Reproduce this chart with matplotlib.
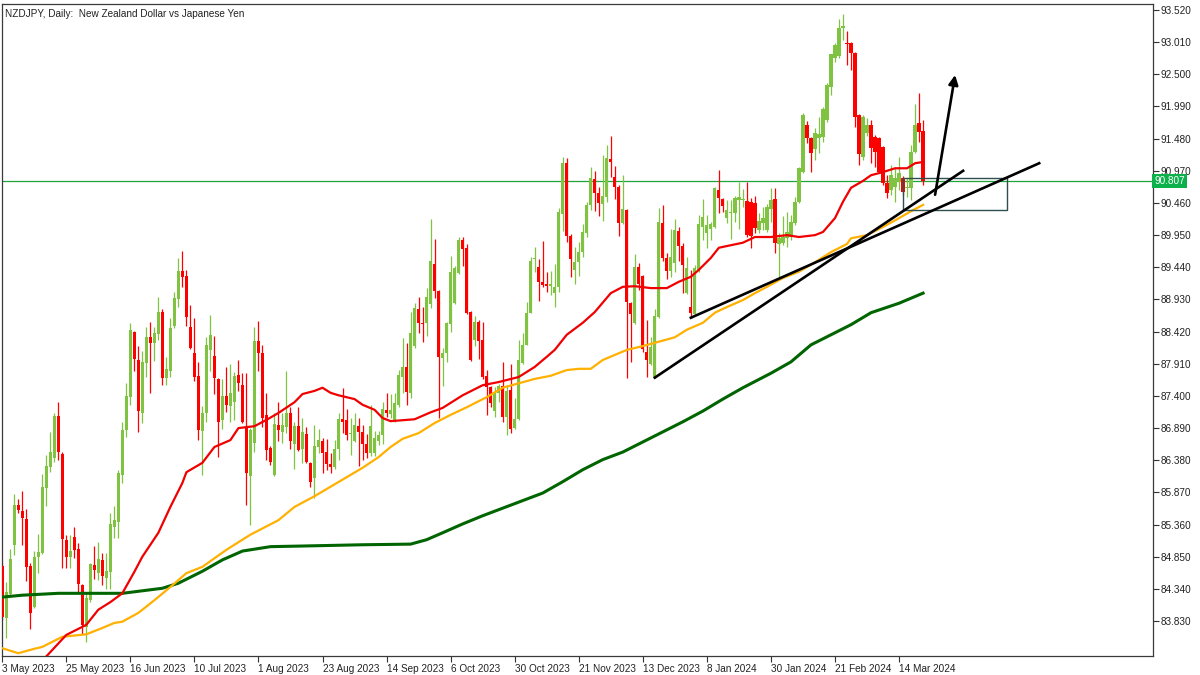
import matplotlib
matplotlib.use("Agg")
import matplotlib.pyplot as plt
from matplotlib.patches import Rectangle
from matplotlib.transforms import blended_transform_factory

plt.rcParams["font.family"] = ["Liberation Sans", "DejaVu Sans"]

# --- Daily OHLC, NZDJPY, bar 0 = 3 May 2023 (weekdays) ---
opens = [
    84.70, 83.88, 84.26, 85.04, 85.67, 85.58, 85.45, 84.70, 84.05, 84.85,
    84.91, 85.94, 86.27, 86.42, 87.08, 86.48, 85.12, 84.85, 85.16, 84.97,
    84.40, 83.74, 84.16, 84.72, 84.60, 84.80, 84.51, 84.61, 85.32, 85.40,
    86.15, 86.86, 87.38, 88.41, 87.97, 87.13, 87.92, 88.33, 88.24, 88.38,
    88.73, 87.68, 87.79, 88.51, 88.94, 89.38, 89.30, 88.49, 88.08, 87.72,
    86.84, 87.13, 88.13, 88.03, 87.67, 87.02, 87.40, 87.24, 87.31, 87.73,
    87.57, 86.89, 86.13, 86.65, 88.27, 88.08, 87.10, 86.57, 86.15, 86.94,
    86.83, 86.91, 87.13, 86.64, 86.92, 86.56, 86.80, 86.34, 86.10, 86.59,
    86.69, 86.51, 86.32, 86.27, 86.56, 87.03, 87.02, 86.79, 86.69, 86.92,
    86.83, 86.64, 86.50, 86.50, 86.69, 86.78, 87.18, 87.12, 87.00, 87.26,
    87.70, 87.86, 87.45, 88.19, 88.78, 88.56, 88.56, 88.86, 89.49, 89.06,
    88.00, 88.08, 88.54, 88.87, 89.35, 89.87, 89.75, 88.73, 88.29, 88.57,
    88.29, 87.72, 87.54, 87.16, 87.45, 87.56, 87.07, 87.49, 86.89, 87.03,
    87.92, 88.21, 88.72, 89.57, 89.45, 89.21, 89.18, 89.15, 89.03, 89.13,
    90.28, 91.09, 89.94, 89.40, 89.52, 89.68, 89.98, 90.43, 90.84, 90.62,
    90.44, 90.56, 91.16, 90.87, 90.71, 90.14, 90.35, 88.87, 88.56, 89.45,
    89.30, 88.10, 87.91, 87.70, 88.65, 90.14, 89.59, 89.38, 89.51, 90.02,
    89.78, 89.03, 88.81, 88.70, 89.40, 90.08, 89.98, 90.05, 90.08, 90.67,
    90.52, 90.22, 90.30, 90.30, 90.51, 90.50, 90.49, 90.48, 90.46, 90.03,
    90.14, 90.03, 90.37, 90.52, 89.81, 89.83, 89.90, 89.92, 90.14, 90.48,
    90.95, 91.70, 91.49, 91.32, 91.49, 91.51, 91.78, 92.30, 92.76, 92.79,
    93.23, 93.00, 92.99, 92.84, 91.85, 91.19, 91.57, 91.70, 91.51, 91.49,
    91.35, 90.78, 90.67, 90.71, 90.79, 90.86, 90.69, 90.70, 91.27, 91.73, 91.60,
]
highs = [
    84.75, 84.45, 84.97, 85.85, 85.77, 85.89, 85.61, 84.75, 84.94, 85.21,
    86.16, 86.46, 86.83, 87.13, 87.30, 86.51, 85.19, 85.19, 85.32, 85.07,
    84.42, 84.27, 84.75, 85.02, 85.08, 84.91, 84.91, 85.54, 85.65, 86.22,
    86.99, 87.61, 88.56, 88.43, 88.19, 88.11, 88.49, 88.57, 88.49, 88.97,
    88.78, 88.02, 88.64, 89.05, 89.59, 89.70, 89.40, 88.84, 88.64, 87.94,
    87.24, 88.33, 88.68, 88.35, 87.69, 87.67, 87.86, 87.91, 87.78, 87.97,
    87.76, 87.76, 86.89, 88.49, 88.59, 88.21, 87.45, 86.60, 87.13, 87.30,
    87.13, 87.80, 87.22, 86.99, 87.22, 87.05, 86.91, 86.36, 86.94, 86.88,
    86.74, 86.72, 86.50, 86.70, 87.13, 87.53, 87.19, 87.05, 87.13, 87.05,
    86.94, 86.80, 87.26, 86.85, 86.85, 87.30, 87.45, 87.43, 87.45, 87.81,
    88.32, 88.24, 88.73, 88.87, 88.97, 88.81, 89.11, 90.21, 89.89, 89.08,
    88.16, 88.58, 89.62, 89.46, 89.92, 89.92, 89.81, 88.75, 88.67, 88.60,
    88.57, 87.81, 87.56, 87.54, 87.59, 87.94, 87.57, 87.91, 87.37, 88.29,
    88.40, 88.89, 89.60, 89.76, 89.57, 89.86, 89.37, 89.38, 89.49, 90.38,
    91.19, 91.17, 89.96, 89.76, 89.84, 90.13, 90.48, 91.03, 90.97, 90.71,
    91.22, 91.38, 91.52, 91.05, 90.74, 90.90, 90.37, 88.89, 89.65, 89.51,
    89.32, 88.60, 88.34, 88.78, 90.38, 90.43, 89.67, 90.05, 90.21, 90.08,
    89.83, 89.60, 89.40, 89.48, 90.27, 90.52, 90.27, 90.16, 90.71, 90.98,
    90.54, 90.51, 90.51, 90.57, 90.79, 90.68, 90.79, 90.54, 90.57, 90.30,
    90.40, 90.45, 90.70, 90.70, 89.98, 90.25, 90.32, 90.27, 90.55, 91.03,
    91.89, 91.76, 91.51, 91.65, 91.82, 91.98, 92.36, 92.82, 93.00, 93.38,
    93.46, 93.19, 93.01, 92.86, 91.87, 91.85, 91.81, 91.78, 91.54, 91.51,
    91.37, 90.90, 91.06, 91.01, 91.19, 90.88, 90.86, 91.38, 92.03, 92.20, 91.78,
]
lows = [
    83.85, 83.56, 84.24, 84.88, 85.55, 85.04, 84.47, 83.70, 84.03, 84.59,
    84.90, 85.65, 86.20, 86.35, 86.38, 84.67, 84.67, 84.67, 84.83, 84.27,
    83.62, 83.50, 84.14, 84.50, 84.48, 84.40, 84.34, 84.34, 85.15, 85.15,
    86.02, 86.75, 87.26, 87.80, 86.83, 86.97, 87.70, 87.45, 87.95, 88.29,
    87.57, 87.57, 87.70, 88.48, 88.81, 89.13, 88.51, 88.14, 87.64, 86.70,
    86.15, 86.99, 87.80, 87.43, 86.43, 86.88, 87.14, 86.99, 87.02, 87.48,
    86.97, 85.67, 85.35, 86.51, 87.80, 86.91, 86.38, 86.30, 86.13, 86.69,
    86.65, 86.81, 86.56, 86.24, 86.52, 86.34, 86.33, 85.96, 85.78, 86.50,
    86.18, 86.23, 86.18, 86.24, 86.38, 86.81, 86.70, 86.46, 86.67, 86.29,
    86.38, 86.42, 86.45, 86.45, 86.62, 86.64, 87.07, 87.05, 86.98, 87.22,
    87.45, 87.26, 87.37, 88.16, 88.40, 88.26, 88.35, 88.79, 88.95, 87.05,
    87.56, 87.94, 88.41, 88.86, 89.33, 89.46, 88.70, 87.95, 88.19, 87.99,
    87.67, 87.10, 87.22, 87.07, 87.30, 86.99, 86.78, 86.81, 86.87, 87.02,
    87.90, 88.20, 88.71, 89.37, 88.90, 89.13, 89.05, 89.00, 88.81, 89.05,
    90.02, 89.84, 89.29, 89.18, 89.30, 89.60, 89.92, 90.35, 90.33, 90.25,
    90.17, 90.48, 90.87, 90.52, 89.94, 90.12, 87.68, 87.94, 88.54, 89.08,
    88.10, 87.70, 87.89, 87.68, 88.63, 89.54, 89.25, 89.29, 89.37, 89.54,
    89.03, 89.01, 88.64, 88.68, 89.37, 89.87, 89.75, 89.87, 90.06, 90.30,
    90.32, 90.14, 89.89, 90.16, 90.05, 90.40, 89.92, 89.75, 89.99, 89.98,
    90.03, 90.00, 90.16, 89.67, 89.29, 89.79, 89.76, 89.87, 90.11, 90.46,
    90.93, 91.41, 90.95, 91.14, 91.25, 91.43, 91.74, 92.17, 92.70, 92.76,
    93.04, 92.65, 92.57, 91.66, 91.06, 91.14, 91.52, 91.09, 91.03, 90.93,
    90.74, 90.54, 90.59, 90.48, 90.67, 90.58, 90.55, 90.51, 91.25, 91.43, 90.74,
]
closes = [
    83.90, 84.29, 84.81, 85.67, 85.59, 85.46, 84.69, 83.96, 84.85, 84.93,
    85.96, 86.29, 86.51, 87.08, 86.51, 85.13, 84.85, 84.94, 84.96, 84.42,
    83.77, 84.20, 84.73, 84.64, 84.81, 84.55, 84.62, 85.37, 85.43, 86.18,
    86.86, 87.40, 88.45, 87.99, 87.16, 87.94, 88.33, 88.24, 88.40, 88.73,
    87.68, 87.83, 88.48, 88.95, 89.38, 89.29, 88.65, 88.16, 87.70, 86.86,
    87.13, 88.21, 88.37, 87.68, 86.99, 87.40, 87.26, 87.45, 87.72, 87.61,
    86.99, 86.18, 86.86, 88.27, 88.08, 87.05, 86.54, 86.36, 86.96, 86.86,
    86.94, 87.13, 86.69, 86.92, 86.54, 86.83, 86.35, 86.04, 86.61, 86.70,
    86.50, 86.32, 86.27, 86.56, 87.03, 86.99, 86.78, 86.81, 86.94, 86.83,
    86.64, 86.50, 86.92, 86.73, 86.78, 87.19, 87.13, 87.18, 87.29, 87.73,
    87.86, 87.46, 88.40, 88.80, 88.56, 88.54, 88.97, 89.54, 89.06, 88.02,
    88.08, 88.56, 89.37, 89.43, 89.87, 89.73, 88.72, 87.97, 88.57, 88.27,
    87.70, 87.54, 87.29, 87.45, 87.56, 87.07, 87.48, 86.87, 87.03, 87.97,
    88.21, 88.72, 89.54, 89.59, 89.21, 89.16, 89.14, 89.17, 89.13, 90.32,
    91.09, 89.94, 89.57, 89.52, 89.68, 90.00, 90.43, 90.86, 90.62, 90.46,
    90.57, 91.17, 91.11, 90.71, 90.14, 90.36, 88.89, 88.70, 89.45, 89.18,
    88.14, 87.97, 88.18, 88.67, 90.16, 89.59, 89.38, 89.60, 90.03, 89.78,
    89.48, 89.43, 88.72, 89.43, 90.13, 90.24, 90.11, 90.13, 90.70, 90.54,
    90.41, 90.35, 90.32, 90.54, 90.55, 90.52, 89.95, 89.94, 90.06, 90.17,
    90.22, 90.40, 90.51, 89.83, 89.90, 89.92, 90.00, 90.16, 90.48, 91.01,
    91.85, 91.49, 91.25, 91.57, 91.55, 91.95, 92.33, 92.82, 92.96, 93.23,
    93.27, 92.98, 92.84, 91.82, 91.24, 91.82, 91.70, 91.33, 91.27, 90.95,
    90.78, 90.62, 90.90, 90.86, 90.93, 90.63, 90.71, 91.27, 91.70, 91.59, 90.807,
]

# --- Moving averages (bar index, price) ---
ma50_bars = [8, 10, 16, 21, 24, 27, 30, 33, 35, 39, 42, 45, 46, 50, 53, 57, 59, 63, 66, 69,
             73, 75, 78, 80, 82, 84, 88, 90, 93, 95, 97, 103, 107, 110, 115, 120, 124, 129,
             133, 136, 138, 141, 145, 148, 152, 155, 158, 162, 166, 169, 172, 174, 177, 179,
             182, 185, 188, 192, 196, 199, 203, 205, 208, 210, 212, 215, 217, 220, 223, 226,
             228, 230]
ma50_vals = [82.90, 83.20, 83.61, 83.77, 84.01, 84.13, 84.27, 84.61, 84.85, 85.23, 85.64,
             86.02, 86.19, 86.34, 86.59, 86.70, 86.89, 86.92, 87.02, 87.13, 87.30, 87.43,
             87.48, 87.53, 87.45, 87.41, 87.35, 87.26, 87.18, 87.05, 87.00, 87.03, 87.14,
             87.21, 87.41, 87.57, 87.62, 87.70, 87.86, 88.02, 88.13, 88.37, 88.56, 88.73,
             89.03, 89.13, 89.14, 89.11, 89.11, 89.21, 89.29, 89.40, 89.59, 89.75, 89.79,
             89.83, 89.92, 89.92, 89.95, 89.92, 89.95, 90.00, 90.22, 90.48, 90.70, 90.81,
             90.90, 90.95, 91.01, 91.01, 91.09, 91.11]

ma100_bars = [0, 4, 8, 10, 15, 21, 25, 28, 30, 34, 38, 42, 46, 50, 56, 62, 69, 73, 78, 82,
              86, 90, 94, 97, 100, 104, 108, 112, 116, 121, 125, 129, 133, 137, 141, 144,
              147, 150, 156, 160, 164, 168, 171, 175, 178, 181, 185, 188, 191, 195, 199,
              203, 207, 211, 212, 216, 220, 224, 227, 230]
ma100_vals = [83.40, 83.32, 83.39, 83.42, 83.58, 83.62, 83.72, 83.80, 83.82, 83.96, 84.16,
              84.37, 84.59, 84.69, 84.96, 85.20, 85.43, 85.64, 85.81, 85.96, 86.11, 86.26,
              86.43, 86.59, 86.72, 86.81, 86.97, 87.10, 87.22, 87.38, 87.53, 87.60, 87.67,
              87.72, 87.81, 87.83, 87.83, 87.97, 88.13, 88.19, 88.26, 88.33, 88.45, 88.56,
              88.72, 88.81, 88.92, 89.03, 89.13, 89.27, 89.37, 89.52, 89.68, 89.81, 89.90,
              89.95, 90.08, 90.22, 90.33, 90.43]

ma200_bars = [0, 5, 14, 30, 35, 40, 44, 50, 55, 60, 67, 75, 90, 102, 106, 110, 115, 120,
              125, 130, 135, 140, 145, 150, 155, 160, 165, 170, 175, 180, 185, 192, 197,
              202, 207, 212, 217, 224, 230]
ma200_vals = [84.21, 84.24, 84.27, 84.27, 84.31, 84.35, 84.43, 84.62, 84.80, 84.94, 85.01,
              85.02, 85.04, 85.05, 85.12, 85.23, 85.37, 85.50, 85.62, 85.74, 85.86, 86.04,
              86.23, 86.39, 86.51, 86.67, 86.83, 86.99, 87.16, 87.35, 87.53, 87.76, 87.94,
              88.21, 88.37, 88.53, 88.72, 88.87, 89.03]

# --- Drawn objects (bar index, price) ---
trend1_bars = [163, 240]
trend1_vals = [87.69, 90.97]
trend2_bars = [172, 259]
trend2_vals = [88.64, 91.09]
arrow_start = (233, 90.59)
arrow_end = (238, 92.49)
zone_bars = [225, 251]
zone_vals = [90.35, 90.85]
last_price = 90.807

date_ticks = [0, 16, 32, 48, 64, 80, 96, 112, 128, 144, 160, 176, 192, 208, 224]
date_labels = ["3 May 2023", "25 May 2023", "16 Jun 2023", "10 Jul 2023", "1 Aug 2023",
               "23 Aug 2023", "14 Sep 2023", "6 Oct 2023", "30 Oct 2023", "21 Nov 2023",
               "13 Dec 2023", "8 Jan 2024", "30 Jan 2024", "21 Feb 2024", "14 Mar 2024"]
price_ticks = [83.83, 84.34, 84.85, 85.36, 85.87, 86.38, 86.89, 87.40, 87.91, 88.42,
               88.93, 89.44, 89.95, 90.46, 90.97, 91.48, 91.99, 92.50, 93.01, 93.52]

BULL = "#80C342"
BEAR = "#FF0000"

fig = plt.figure(figsize=(12, 6.75), dpi=100)
ax = fig.add_axes([2 / 1200, 19 / 675, 1150.5 / 1200, 652 / 675])

# --- Candles ---
for i in range(len(closes)):
    o, h, l, c = opens[i], highs[i], lows[i], closes[i]
    col = BULL if c >= o else BEAR
    ax.vlines(i, l, h, color=col, linewidth=0.9, zorder=2)
    body = max(abs(c - o), 0.018)
    ax.bar(i, body, bottom=min(o, c), width=0.8, color=col, linewidth=0, zorder=3)

# --- Moving averages ---
ax.plot(ma200_bars, ma200_vals, color="#006400", linewidth=2.2, zorder=4)
ax.plot(ma100_bars, ma100_vals, color="#FFB000", linewidth=1.6, zorder=4)
ax.plot(ma50_bars, ma50_vals, color="#F00000", linewidth=1.6, zorder=4)

# --- Last price line & zone ---
ax.axhline(last_price, color="#1FA33A", linewidth=0.9, zorder=1)
ax.add_patch(Rectangle((zone_bars[0], zone_vals[0]), zone_bars[1] - zone_bars[0],
                       zone_vals[1] - zone_vals[0], fill=False,
                       edgecolor="#2F4F4F", linewidth=1.0, zorder=5))

# --- Trendlines & arrow ---
ax.plot(trend1_bars, trend1_vals, color="black", linewidth=1.9, zorder=6)
ax.plot(trend2_bars, trend2_vals, color="black", linewidth=1.9, zorder=6)
ax.annotate("", xy=arrow_end, xytext=arrow_start,
            arrowprops=dict(arrowstyle="-|>", color="black", lw=1.9,
                            mutation_scale=14, shrinkA=0, shrinkB=0), zorder=6)

# --- Axes formatting ---
ax.set_xlim(-0.05, 287.3)
ax.set_ylim(83.276, 93.615)
ax.yaxis.tick_right()
ax.set_yticks(price_ticks)
ax.set_yticklabels([f"{p:.3f}" for p in price_ticks])
ax.set_xticks(date_ticks)
ax.set_xticklabels(date_labels, ha="left")
ax.tick_params(axis="both", direction="out", length=4, width=0.8, colors="#333333",
               labelsize=7.2, labelcolor="#222222")
ax.tick_params(axis="y", pad=1.5)
ax.tick_params(axis="x", pad=1.5)
for s in ax.spines.values():
    s.set_color("#3A3A3A")
    s.set_linewidth(0.9)

trans = blended_transform_factory(ax.transAxes, ax.transData)
ax.text(1.0015, last_price, "90.807", transform=trans, fontsize=7.2, color="white",
        va="center", ha="left", clip_on=False,
        bbox=dict(boxstyle="square,pad=0.2", facecolor="#0DB14B", edgecolor="none"))

ax.text(0.003, 0.993, "NZDJPY, Daily:  New Zealand Dollar vs Japanese Yen",
        transform=ax.transAxes, fontsize=7.2, color="#222222", va="top", ha="left")

fig.savefig("out.png", dpi=100)
plt.close(fig)
